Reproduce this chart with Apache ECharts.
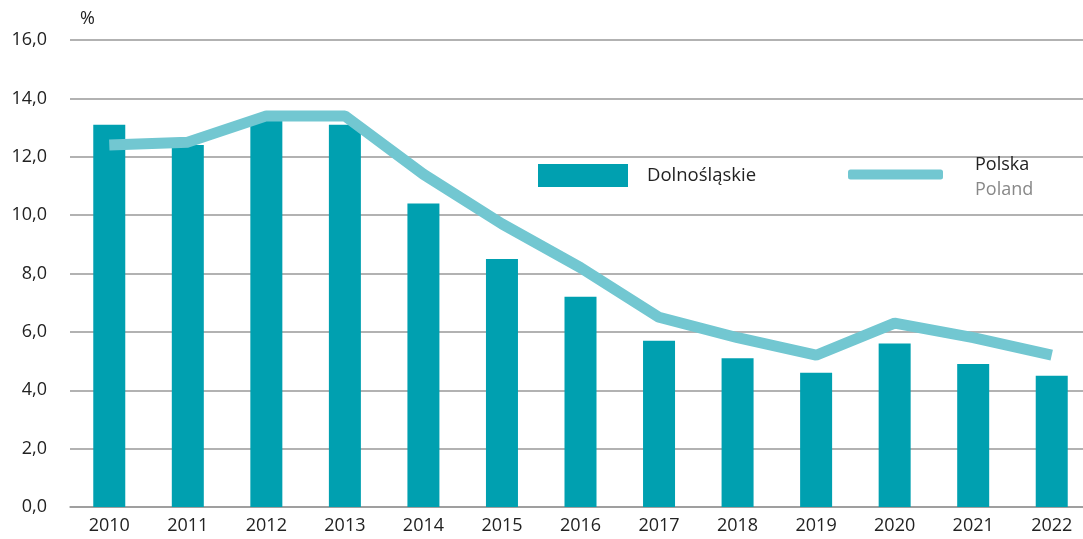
<!DOCTYPE html>
<html>
<head>
<meta charset="utf-8">
<script src="https://cdn.jsdelivr.net/npm/echarts@6/dist/echarts.min.js"></script>
<style>
  html, body { margin: 0; padding: 0; background: #fff; overflow: hidden; }
  #chart { width: 1091px; height: 539px; }
</style>
</head>
<body>
<div id="chart"></div>
<script>
// lata
const years = ["2010", "2011", "2012", "2013", "2014", "2015", "2016", "2017", "2018", "2019", "2020", "2021", "2022"];
// Dolnośląskie (słupki)
const dolnoslaskie = [13.1, 12.4, 13.4, 13.1, 10.4, 8.5, 7.2, 5.7, 5.1, 4.6, 5.6, 4.9, 4.5];
// Polska (linia)
const polska = [12.4, 12.5, 13.4, 13.4, 11.4, 9.7, 8.2, 6.5, 5.8, 5.2, 6.3, 5.8, 5.2];

const font = "'Open Sans', 'Noto Sans', sans-serif";

const chart = echarts.init(document.getElementById("chart"));
const options = {
  animation: false,
  textStyle: { fontFamily: font },
  grid: { left: 70, right: 0, top: 40, bottom: 32 },
  legend: [
    {
      data: ["Dolnośląskie"],
      left: 533, top: 159,
      icon: "rect",
      itemWidth: 90, itemHeight: 23, itemGap: 20,
      textStyle: { fontSize: 18.5, color: "#222", fontFamily: font, padding: [0, 0, 0, 14] }
    },
    {
      data: ["Polska"],
      left: 843, top: 151,
      icon: "roundRect",
      itemWidth: 95, itemHeight: 10,
      formatter: "{a|Polska}\n{b|Poland}",
      textStyle: {
        fontFamily: font,
        padding: [6, 0, 0, 27],
        rich: {
          a: { fontSize: 18, color: "#222", lineHeight: 25, fontFamily: font },
          b: { fontSize: 18, color: "#888", lineHeight: 25, fontFamily: font }
        }
      }
    }
  ],
  xAxis: {
    type: "category",
    data: years,
    axisTick: { show: false },
    axisLine: { lineStyle: { color: "#999", width: 1.5 } },
    axisLabel: { fontSize: 18, color: "#222", margin: 10 }
  },
  yAxis: {
    type: "value",
    min: 0, max: 16, interval: 2,
    name: "%",
    nameLocation: "end",
    nameGap: 12,
    nameTextStyle: { fontSize: 18, color: "#222", align: "left", padding: [0, 0, 0, 10] },
    axisLine: { show: false },
    axisTick: { show: false },
    splitLine: { lineStyle: { color: "#999", width: 1.5 } },
    axisLabel: {
      fontSize: 18, color: "#222", margin: 23,
      formatter: v => v.toFixed(1).replace(".", ",")
    }
  },
  series: [
    {
      name: "Dolnośląskie",
      type: "bar",
      data: dolnoslaskie,
      barWidth: 32,
      itemStyle: { color: "#00a0b0" }
    },
    {
      name: "Polska",
      type: "line",
      data: polska,
      symbol: "none",
      color: "#72c7d1",
      lineStyle: { width: 11, color: "#72c7d1", cap: "butt" },
      itemStyle: { color: "#72c7d1" },
      z: 3
    }
  ]
};
chart.setOption(options);
</script>
</body>
</html>
